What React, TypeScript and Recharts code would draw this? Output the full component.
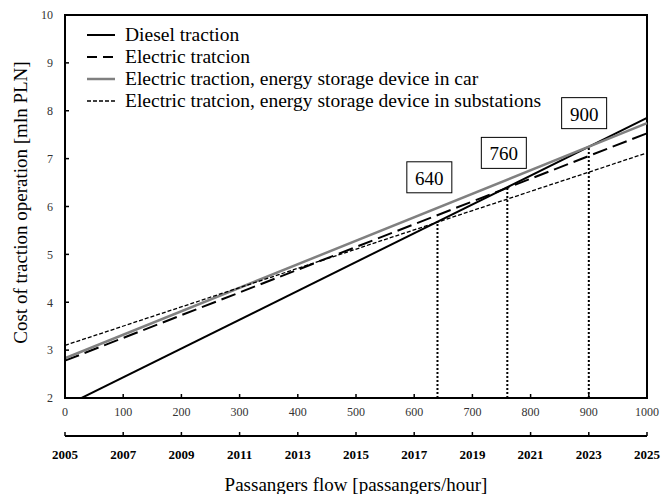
import React from "react"
import {
  LineChart,
  Line,
  XAxis,
  YAxis,
  Legend,
  ReferenceLine,
  ReferenceDot,
  ReferenceArea,
} from "recharts"

// passengers flow (x), matching year, and cost of traction operation [mln PLN]
const flow = [0, 1000]
const years = [2005, 2025]
const diesel = [1.83, 7.85]
const electric = [2.78, 7.53]
const carStorage = [2.83, 7.74]
const substationStorage = [3.1, 7.12]

// break-even points
const breakFlow = [640, 760, 900]
const breakCost = [5.68, 6.4, 7.25]
const breakLabels = ["640", "760", "900"]
// where the boxed labels sit (data units)
const boxFlow = [626, 754, 892]
const boxCost = [6.61, 7.12, 7.95]

const flowTicks = [0, 100, 200, 300, 400, 500, 600, 700, 800, 900, 1000]
const costTicks = [2, 3, 4, 5, 6, 7, 8, 9, 10]
const yearTicks = [2005, 2007, 2009, 2011, 2013, 2015, 2017, 2019, 2021, 2023, 2025]

const data = flow.map((f, i) => ({
  flow: f,
  year: years[i],
  diesel: diesel[i],
  electric: electric[i],
  car: carStorage[i],
  sub: substationStorage[i],
}))

const serif = "'Liberation Serif', 'Times New Roman', serif"

const series = [
  { key: "diesel", name: "Diesel traction", color: "#000", width: 2, dash: undefined, legendDash: undefined },
  { key: "electric", name: "Electric tratcion", color: "#000", width: 2, dash: "15 6", legendDash: "10 6" },
  { key: "car", name: "Electric traction, energy storage device in car", color: "#808080", width: 2.5, dash: undefined, legendDash: undefined },
  { key: "sub", name: "Electric tratcion, energy storage device in substations", color: "#000", width: 1.3, dash: "4 2", legendDash: "4 2" },
]

function LegendBox() {
  return (
    <div style={{ fontFamily: serif, fontSize: 19.5, color: "#000", whiteSpace: "nowrap" }}>
      {series.map((s) => (
        <div key={s.key} style={{ display: "flex", alignItems: "center", height: 22 }}>
          <svg width={30} height={10} style={{ marginRight: 9 }}>
            <line x1={1} y1={5} x2={29} y2={5} stroke={s.color} strokeWidth={s.width} strokeDasharray={s.legendDash} />
          </svg>
          <span>{s.name}</span>
        </div>
      ))}
    </div>
  )
}

function BoxLabel(props: any) {
  const { cx, cy, text } = props
  return (
    <g>
      <rect x={cx - 22.5} y={cy - 15.5} width={45} height={31} fill="#fff" stroke="#000" strokeWidth={1} />
      <text x={cx} y={cy + 1} textAnchor="middle" dominantBaseline="central" fontFamily={serif} fontSize={19} fill="#000">
        {text}
      </text>
    </g>
  )
}

function YLabel(props: any) {
  const { viewBox } = props
  const x = viewBox.x + 20
  const y = viewBox.y + viewBox.height / 2 - 4
  return (
    <text x={x} y={y} transform={`rotate(-90, ${x}, ${y})`} textAnchor="middle" dominantBaseline="central" fontFamily={serif} fontSize={19} fill="#000">
      Cost of traction operation [mln PLN]
    </text>
  )
}

export default function App() {
  return (
    <div style={{ position: "absolute", left: 0, top: 0, width: 663, height: 494, background: "#fff" }}>
      <LineChart width={663} height={494} data={data} margin={{ top: 15, right: 16, bottom: 0, left: 0 }}>
        <XAxis
          dataKey="flow"
          type="number"
          domain={[0, 1000]}
          ticks={flowTicks}
          height={38}
          axisLine={{ stroke: "#000", strokeWidth: 2 }}
          tickLine={{ stroke: "#000", strokeWidth: 1.5 }}
          tickSize={-4}
          tickMargin={13}
          tick={{ fill: "#333", fontSize: 12, fontFamily: serif }}
        />
        <XAxis
          xAxisId="year"
          dataKey="year"
          type="number"
          domain={[2005, 2025]}
          ticks={yearTicks}
          height={58}
          axisLine={{ stroke: "#000", strokeWidth: 2 }}
          tickLine={{ stroke: "#000", strokeWidth: 1.5 }}
          tickSize={-4}
          tickMargin={18}
          tick={{ fill: "#000", fontSize: 13, fontFamily: serif, fontWeight: "bold" }}
          label={{ value: "Passangers flow [passangers/hour]", position: "insideBottom", offset: 3, fontFamily: serif, fontSize: 19, fill: "#000" }}
        />
        <YAxis
          type="number"
          domain={[2, 10]}
          ticks={costTicks}
          allowDataOverflow
          width={65}
          axisLine={{ stroke: "#000", strokeWidth: 2 }}
          tickLine={{ stroke: "#000", strokeWidth: 1.5 }}
          tickSize={-4}
          tickMargin={16}
          tick={{ fill: "#333", fontSize: 12, fontFamily: serif }}
          label={<YLabel />}
        />
        <ReferenceArea x1={0} x2={1000} y1={2} y2={10} fill="none" stroke="#000" strokeWidth={2} ifOverflow="visible" />
        {breakFlow.map((f, i) => (
          <ReferenceLine
            key={f}
            segment={[{ x: f, y: 2 }, { x: f, y: breakCost[i] }]}
            stroke="#000"
            strokeWidth={2}
            strokeDasharray="2 2"
          />
        ))}
        {/* invisible series so the year axis gets its scale */}
        <Line xAxisId="year" dataKey="diesel" stroke="none" dot={false} activeDot={false} legendType="none" isAnimationActive={false} />
        {series.map((s) => (
          <Line
            key={s.key}
            dataKey={s.key}
            name={s.name}
            type="linear"
            stroke={s.color}
            strokeWidth={s.width}
            strokeDasharray={s.dash}
            dot={false}
            activeDot={false}
            isAnimationActive={false}
          />
        ))}
        {boxFlow.map((f, i) => (
          <ReferenceDot
            key={breakLabels[i]}
            x={f}
            y={boxCost[i]}
            r={0}
            shape={(p: any) => <BoxLabel {...p} text={breakLabels[i]} />}
          />
        ))}
        <Legend
          layout="horizontal"
          verticalAlign="middle"
          align="center"
          content={() => <LegendBox />}
          wrapperStyle={{ top: 24, left: 86, width: 540, height: 90 }}
        />
      </LineChart>
    </div>
  )
}
